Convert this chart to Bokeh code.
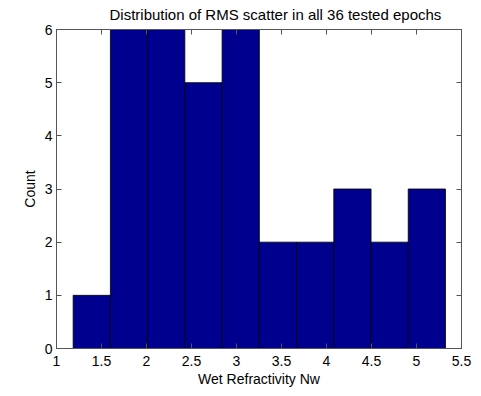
from bokeh.plotting import figure
from bokeh.models import FixedTicker, LinearAxis, Range1d, CustomLabelingPolicy
from bokeh.embed import file_html
from bokeh.resources import INLINE

# Histogram data
bin_edges = [1.185, 1.599, 2.012, 2.426, 2.840, 3.254, 3.667, 4.081, 4.495, 4.908, 5.322]
counts = [1, 6, 6, 5, 6, 2, 2, 3, 2, 3]
x_ticks = [1, 1.5, 2, 2.5, 3, 3.5, 4, 4.5, 5, 5.5]
y_ticks = [0, 1, 2, 3, 4, 5, 6]
title_text = "Distribution of RMS scatter in all 36 tested epochs"
x_label = "Wet Refractivity Nw"
y_label = "Count"

FONT = "Liberation Sans"
AXIS_COLOR = "#555555"

p = figure(frame_width=405, frame_height=319,
           x_range=Range1d(1, 5.5), y_range=Range1d(0, 6),
           output_backend="svg", toolbar_location=None,
           min_border_left=56, min_border_right=20,
           min_border_top=29, min_border_bottom=48)

p.quad(left=bin_edges[:-1], right=bin_edges[1:], bottom=0, top=counts,
       fill_color="#00008F", line_color="#000000", line_width=0.8)

p.grid.visible = False
p.outline_line_color = AXIS_COLOR
p.background_fill_color = "white"
p.border_fill_color = "white"

def style_axis(ax, ticks, show_labels):
    ax.ticker = FixedTicker(ticks=ticks)
    ax.major_tick_in = 5
    ax.major_tick_out = 0
    ax.minor_tick_in = 0
    ax.minor_tick_out = 0
    ax.axis_line_color = AXIS_COLOR
    ax.major_tick_line_color = AXIS_COLOR
    ax.major_label_text_font = FONT
    ax.major_label_text_color = "#000000"
    if show_labels:
        ax.major_label_text_font_size = "14px"
        ax.major_label_standoff = 4
    else:
        ax.major_label_text_font_size = "1px"
        ax.major_label_standoff = 0
        ax.major_label_policy = CustomLabelingPolicy(code="return []")

style_axis(p.xaxis[0], x_ticks, True)
style_axis(p.yaxis[0], y_ticks, True)
p.xaxis[0].major_label_standoff = 7
p.xaxis[0].axis_label = x_label
p.yaxis[0].axis_label = y_label
for ax in (p.xaxis[0], p.yaxis[0]):
    ax.axis_label_text_font = FONT
    ax.axis_label_text_font_size = "14px"
    ax.axis_label_text_font_style = "normal"
    ax.axis_label_text_color = "#000000"
    ax.axis_label_standoff = 4
p.xaxis[0].axis_label_standoff = 2

top_ax = LinearAxis()
right_ax = LinearAxis()
style_axis(top_ax, x_ticks, False)
style_axis(right_ax, y_ticks, False)
p.add_layout(top_ax, "above")
p.add_layout(right_ax, "right")

p.title.text = title_text
p.title.align = "left"
p.title.offset = 53
p.title.text_font = FONT
p.title.text_font_size = "15px"
p.title.text_font_style = "normal"
p.title.text_color = "#000000"
p.title.standoff = 6

open("out.html", "w").write(file_html(p, INLINE))
